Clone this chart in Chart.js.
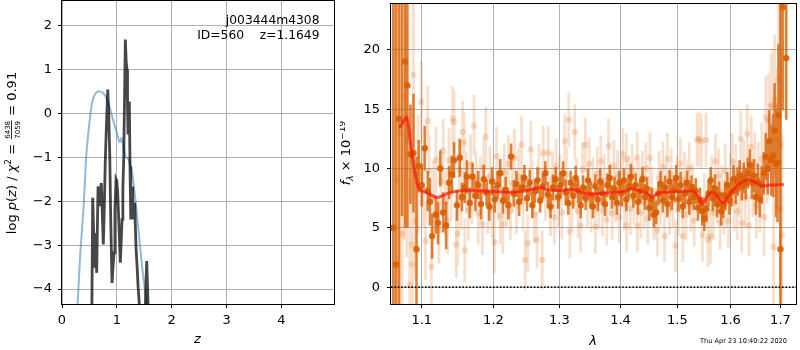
<!DOCTYPE html>
<html><head><meta charset="utf-8">
<script src="https://cdn.jsdelivr.net/npm/chart.js@4.4.1/dist/chart.umd.min.js"></script>
<style>
html,body{margin:0;padding:0;background:#fff;width:800px;height:350px;overflow:hidden;}
#c1{position:absolute;left:0;top:0;}
#c2{position:absolute;left:340px;top:0;}
</style></head><body>
<canvas id="c1" width="340" height="350"></canvas>
<canvas id="c2" width="460" height="350"></canvas>
<script>
// ---------- left panel: log p(z) ----------
const zTicks = [0, 1, 2, 3, 4];
const logpTicks = [-4, -3, -2, -1, 0, 1, 2];
const blueZ = [0.25,0.286,0.334,0.395,0.438,0.487,0.547,0.608,0.669,0.72,0.76,0.82,0.87,0.912,0.96,1.0,1.05,1.07,1.083,1.1,1.113,1.155,1.216,1.277,1.338,1.399,1.46,1.52,1.55,1.6];
const blueLogP = [-5.0,-4.31,-3.17,-2.11,-1.05,-0.36,0.24,0.46,0.51,0.49,0.46,0.32,0.14,-0.06,-0.27,-0.44,-0.65,-0.62,-0.55,-0.62,-0.68,-0.97,-1.05,-1.35,-1.96,-2.72,-3.48,-4.08,-4.35,-5.0];
const blackZ = [0.53,0.545,0.56,0.575,0.59,0.60,0.608,0.62,0.633,0.645,0.657,0.672,0.688,0.70,0.717,0.735,0.754,0.77,0.79,0.812,0.834,0.85,0.87,0.89,0.912,0.93,0.949,0.965,0.985,1.0,1.016,1.04,1.064,1.08,1.095,1.11,1.125,1.14,1.155,1.17,1.186,1.195,1.204,1.216,1.228,1.24,1.254,1.265,1.277,1.29,1.30,1.313,1.326,1.338,1.35,1.37,1.387,1.41,1.45,1.52,1.545,1.57,1.62];
const blackLogP = [-6,-4.35,-1.92,-2.6,-3.48,-3.0,-2.72,-3.2,-3.63,-2.6,-1.66,-1.9,-2.11,-1.8,-1.58,-2.3,-2.98,-2.2,-1.05,-0.2,0.55,0.1,-0.9,-2.5,-3.86,-3.5,-3.17,-2.2,-1.5,-1.55,-1.81,-2.6,-3.4,-2.9,-2.41,-1.7,-1.05,0.3,1.69,1.2,1.0,0.2,-0.44,-0.1,0.28,-1.2,-2.41,-2.0,-1.66,-2.1,-2.41,-2.2,-2.03,-2.6,-3.06,-3.5,-3.93,-4.35,-6,-4.35,-3.36,-4.35,-6];

// ---------- right panel: spectrum ----------
const lamTicks = [1.1, 1.2, 1.3, 1.4, 1.5, 1.6, 1.7];
const fluxTicks = [0, 5, 10, 15, 20];
const darkLam = [1.0625,1.066,1.070,1.074,1.078,1.081,1.085,1.089,1.093,1.096,1.100,1.104,1.108,1.111,1.114,1.119,1.122,1.125,1.129,1.133,1.137,1.141,1.144,1.148,1.152,1.155,1.159,1.162,1.166,1.170,1.174,1.178,1.182,1.186,1.190,1.194,1.198,1.202,1.206,1.210,1.214,1.218,1.222,1.226,1.230,1.234,1.238,1.242,1.246,1.250,1.254,1.258,1.262,1.266,1.270,1.274,1.278,1.282,1.286,1.290,1.294,1.298,1.302,1.306,1.310,1.314,1.318,1.322,1.326,1.330,1.334,1.338,1.342,1.346,1.350,1.354,1.358,1.362,1.366,1.370,1.374,1.378,1.382,1.386,1.390,1.394,1.398,1.402,1.406,1.410,1.414,1.418,1.422,1.426,1.430,1.434,1.438,1.442,1.446,1.450,1.454,1.458,1.462,1.466,1.470,1.474,1.478,1.482,1.486,1.490,1.494,1.498,1.502,1.506,1.510,1.514,1.518,1.522,1.526,1.530,1.534,1.538,1.542,1.546,1.550,1.554,1.558,1.562,1.566,1.570,1.574,1.578,1.582,1.586,1.590,1.594,1.598,1.602,1.606,1.610,1.614,1.618,1.622,1.626,1.630,1.634,1.638,1.642,1.646,1.650,1.654,1.658,1.662,1.666,1.670,1.674,1.677,1.681,1.685,1.688,1.691,1.694,1.696,1.700,1.705,1.712];
const darkFlux = [5.0,1.9,14.2,26.0,19.0,17.0,11.2,11.3,3.2,10.2,8.6,11.7,8.1,7.2,4.3,6.1,5.4,10.0,6.3,5.2,8.8,9.5,10.7,6.9,10.9,7.6,8.4,9.3,7.1,9.3,7.7,8.6,7.0,9.1,8.0,6.8,8.9,7.4,8.6,9.6,7.3,8.2,6.9,11.0,7.9,8.7,7.2,8.4,9.2,7.5,8.8,6.9,8.1,9.0,7.3,8.5,9.6,7.8,6.8,8.4,9.1,7.6,8.6,9.6,8.0,7.1,8.8,7.7,9.2,8.1,6.9,8.4,7.5,9.0,7.8,6.8,8.5,7.4,8.9,7.9,7.0,8.6,9.2,7.6,8.3,7.1,8.8,7.9,9.0,7.4,8.5,9.3,7.7,8.6,7.2,8.1,9.1,7.6,8.3,6.7,7.4,6.1,6.3,7.9,8.7,7.3,8.4,7.0,8.9,7.6,8.2,9.2,7.4,8.6,6.8,7.9,8.8,7.2,8.4,7.6,8.1,6.7,7.3,6.4,5.8,6.6,7.9,9.0,7.5,8.3,7.0,7.8,6.4,6.9,7.7,8.6,7.3,8.0,9.1,8.2,8.9,9.4,8.5,9.2,8.7,9.6,10.3,8.8,9.4,7.6,8.9,7.4,8.6,9.6,11.0,10.0,12.3,10.7,11.1,13.2,10.4,10.5,14.5,3.2,23.6,19.3];
const darkErr = [30,30,22,20,14,12,4.2,5.0,7.8,2.2,1.8,1.9,1.7,2.0,1.9,1.6,1.8,1.5,1.7,2.0,1.4,1.6,1.5,1.3,1.6,1.2,1.3,1.4,1.3,1.2,1.3,1.2,1.3,1.2,1.1,1.2,1.2,1.1,1.2,1.2,1.1,1.1,1.2,1.1,1.1,1.1,1.2,1.1,1.1,1.1,1.1,1.1,1.0,1.1,1.0,1.1,1.0,1.1,1.0,1.1,1.0,1.0,1.1,1.0,1.1,1.0,1.0,1.1,1.0,1.0,1.1,1.0,1.0,1.0,1.1,1.0,1.0,1.0,1.1,1.0,1.0,1.0,1.1,1.0,1.0,1.0,1.0,1.1,1.0,1.0,1.0,1.1,1.0,1.0,1.1,1.0,1.0,1.1,1.0,1.1,1.0,1.1,1.0,1.0,1.1,1.0,1.0,1.1,1.0,1.1,1.0,1.1,1.0,1.1,1.0,1.1,1.0,1.1,1.0,1.1,1.1,1.1,1.1,1.2,1.1,1.1,1.1,1.1,1.1,1.2,1.1,1.1,1.2,1.1,1.2,1.1,1.2,1.2,1.2,1.2,1.2,1.3,1.2,1.3,1.3,1.3,1.3,1.4,1.4,1.5,1.5,1.5,1.6,1.8,2.0,2.2,2.6,3.0,3.5,4.0,4.5,5.0,6.0,25,8.7,5.2];
const lightLam = [1.068,1.072,1.074,1.077,1.080,1.084,1.087,1.0875,1.089,1.0916,1.095,1.0995,1.102,1.105,1.108,1.110,1.113,1.116,1.119,1.123,1.126,1.129,1.132,1.135,1.137,1.140,1.142,1.144,1.147,1.149,1.151,1.154,1.156,1.158,1.159,1.161,1.164,1.167,1.169,1.172,1.175,1.178,1.181,1.184,1.186,1.189,1.192,1.195,1.198,1.2015,1.2046,1.207,1.210,1.2135,1.216,1.219,1.222,1.225,1.228,1.231,1.234,1.237,1.2416,1.244,1.247,1.251,1.2557,1.258,1.261,1.265,1.268,1.2732,1.2748,1.278,1.2825,1.286,1.289,1.292,1.295,1.298,1.301,1.304,1.3085,1.311,1.3148,1.3165,1.320,1.3245,1.327,1.330,1.334,1.337,1.3417,1.345,1.348,1.351,1.354,1.358,1.361,1.364,1.367,1.370,1.373,1.377,1.380,1.383,1.386,1.389,1.392,1.395,1.398,1.401,1.404,1.407,1.410,1.4105,1.414,1.417,1.420,1.423,1.4286,1.429,1.432,1.435,1.438,1.441,1.444,1.447,1.451,1.454,1.4578,1.4608,1.464,1.467,1.470,1.474,1.477,1.480,1.482,1.486,1.489,1.492,1.4966,1.499,1.502,1.5055,1.509,1.510,1.513,1.516,1.519,1.522,1.525,1.528,1.531,1.5365,1.540,1.5445,1.5465,1.550,1.553,1.557,1.5615,1.564,1.567,1.571,1.574,1.577,1.580,1.583,1.587,1.590,1.593,1.596,1.600,1.6035,1.607,1.610,1.613,1.617,1.620,1.622,1.626,1.629,1.633,1.636,1.641,1.644,1.648,1.651,1.655,1.658,1.662,1.6665,1.670,1.673,1.676,1.681,1.684,1.686,1.688,1.692,1.696,1.700,1.7005,1.703];
const lightFlux = [9.0,13.0,4.5,16.0,12.5,0.2,3.6,1.9,17.9,5.6,9.5,15.6,8.3,3.9,14.0,9.8,1.7,7.6,10.7,4.8,8.9,11.5,7.2,5.6,10.7,8.3,14.2,13.9,3.6,4.5,9.9,7.4,13.1,12.2,3.1,8.8,6.5,10.3,7.8,13.6,9.0,6.2,8.5,5.3,10.1,12.7,7.0,9.4,6.6,3.8,11.0,8.1,6.0,5.3,9.7,7.5,10.4,6.4,8.8,10.9,6.9,9.3,12.0,7.2,2.3,3.7,11.6,8.3,6.1,4.0,9.8,2.3,11.3,7.9,11.3,6.6,9.1,5.9,10.2,7.4,8.9,6.3,12.3,9.5,14.1,4.7,7.0,13.1,8.6,6.4,5.2,9.9,12.0,7.3,10.4,6.8,8.7,5.1,9.6,7.1,10.6,6.5,9.0,5.7,11.9,8.3,6.2,10.2,7.7,9.4,5.9,8.6,11.2,7.0,10.8,5.2,8.9,6.6,9.9,7.5,10.9,5.15,8.4,6.3,9.3,7.1,10.0,5.8,10.9,8.0,6.2,6.2,4.8,9.2,7.4,10.1,4.3,8.2,10.8,6.6,9.5,7.2,3.5,8.7,6.5,10.4,7.8,4.3,9.1,6.1,8.6,10.0,6.9,8.2,5.6,12.4,12.5,12.3,4.4,7.3,12.4,4.0,4.3,8.8,6.3,10.6,7.7,9.4,5.4,8.0,6.7,9.8,7.3,5.6,8.9,10.6,7.1,9.6,6.4,8.3,12.5,5.4,9.9,7.5,12.9,5.2,11.8,8.6,10.4,6.9,9.3,7.6,10.8,5.9,14.3,10.9,14.0,15.3,15.3,3.4,15.8,12.4,17.5,6.6,12.0,4.4];
const lightErr = [18,15,14,12,10,9,8,8,6,5,5,3.5,3.2,3.3,3.0,3.0,3.2,3.0,2.8,2.8,2.8,2.7,2.8,2.8,2.7,2.7,2.7,2.7,2.8,2.7,2.6,2.6,2.6,2.6,2.7,2.6,2.6,2.6,2.5,2.6,2.5,2.6,2.5,2.6,2.5,2.5,2.5,2.5,2.5,2.6,2.5,2.5,2.4,2.5,2.4,2.4,2.4,2.4,2.4,2.4,2.4,2.4,2.4,2.4,2.5,2.4,2.4,2.3,2.4,2.4,2.3,2.5,2.3,2.3,2.3,2.3,2.3,2.3,2.3,2.3,2.3,2.3,2.3,2.3,2.3,2.3,2.3,2.3,2.3,2.3,2.3,2.3,2.3,2.3,2.2,2.2,2.2,2.3,2.2,2.2,2.2,2.2,2.2,2.2,2.3,2.2,2.2,2.2,2.2,2.2,2.2,2.2,2.2,2.2,2.2,2.2,2.2,2.2,2.2,2.2,2.2,2.2,2.2,2.2,2.2,2.2,2.2,2.2,2.2,2.2,2.2,2.2,2.2,2.3,2.2,2.2,2.2,2.3,2.2,2.2,2.2,2.2,2.2,2.3,2.2,2.2,2.2,2.2,2.3,2.2,2.2,2.2,2.2,2.2,2.2,2.3,2.3,2.3,2.3,2.3,2.3,2.3,2.3,2.3,2.3,2.3,2.3,2.3,2.3,2.3,2.3,2.3,2.3,2.3,2.4,2.4,2.4,2.4,2.4,2.4,2.4,2.5,2.5,2.5,2.5,2.6,2.6,2.7,2.7,2.8,2.9,3.0,3.1,3.3,3.5,3.8,4.0,4.3,4.8,5.2,5.5,6.0,6.5,7.0,8.0,8.5,9.0];
const modelLam = [1.0707,1.075,1.080,1.0845,1.0898,1.0955,1.100,1.105,1.112,1.120,1.128,1.135,1.145,1.160,1.18,1.20,1.22,1.24,1.255,1.265,1.272,1.28,1.30,1.32,1.335,1.35,1.37,1.39,1.41,1.42,1.43,1.445,1.455,1.465,1.48,1.50,1.52,1.53,1.54,1.546,1.552,1.56,1.568,1.575,1.586,1.595,1.605,1.62,1.637,1.65,1.662,1.68,1.707];
const modelFlux = [13.4,13.9,14.3,12.5,10.0,8.4,8.1,8.0,7.8,7.55,7.7,7.9,8.05,8.15,8.1,8.05,8.0,8.05,8.2,8.35,8.4,8.2,8.15,8.25,8.0,7.85,7.9,8.0,8.1,8.3,8.15,7.95,7.6,7.9,8.0,8.05,8.1,8.05,7.5,6.97,7.4,7.9,7.95,7.6,7.1,7.6,8.2,8.8,9.05,8.8,8.55,8.6,8.64];
const zeroLam = [1.0597, 1.7324];
const zeroFlux = [0, 0];

const FONT = 'DejaVu Sans';
const pts = (xs, ys) => xs.map((x, i) => ({x: x, y: ys[i]}));
function errSegs(xs, ys, es) {
  const out = [];
  for (let i = 0; i < xs.length; i++) {
    out.push({x: xs[i], y: ys[i] - es[i]}, {x: xs[i], y: ys[i] + es[i]}, {x: xs[i], y: null});
  }
  return out;
}
const minus = v => (v < 0 ? '\u2212' + Math.abs(v) : String(v));
const noPad = s => { s.paddingTop = 0; s.paddingBottom = 0; s.paddingLeft = 0; s.paddingRight = 0; };

const framePlugin = {
  id: 'frame',
  afterDraw(chart) {
    const a = chart.chartArea, c = chart.ctx;
    c.save();
    c.strokeStyle = '#000'; c.lineWidth = 1;
    const l = Math.round(a.left) - 0.5, t = Math.round(a.top) - 0.5;
    const r = Math.round(a.right) + 0.5, b = Math.round(a.bottom) + 0.5;
    c.strokeRect(l, t, r - l, b - t);
    c.restore();
  }
};

function gridOpts() {
  return {color: '#b0b0b0', lineWidth: 1, tickLength: 4, tickColor: '#000', drawTicks: true};
}

// ---------- left chart ----------
const leftText = {
  id: 'leftText',
  afterDraw(chart) {
    const c = chart.ctx;
    c.save();
    c.fillStyle = '#000';
    c.font = '12.3px "' + FONT + '"';
    c.textAlign = 'right'; c.textBaseline = 'alphabetic';
    c.fillText('j003444m4308', 319.5, 24);
    c.fillText('ID=560    z=1.1649', 319.5, 39);
    c.textAlign = 'center';
    c.font = 'italic 13px "' + FONT + '"';
    c.fillText('z', 197.5, 343);
    c.translate(15.5, 153);
    c.rotate(-Math.PI / 2);
    const big = '13px "' + FONT + '"', bigI = 'italic 13px "' + FONT + '"';
    const sup = '9px "' + FONT + '"', frac = '7px "' + FONT + '"';
    const parts = [
      [big, 'log ', 0], [bigI, 'p', 0], [big, '(', 0], [bigI, 'z', 0], [big, ') / ', 0],
      [bigI, '\u03c7', 0], [sup, '2', -5], [big, ' = ', 0], ['FRAC', '', 0], [big, ' = 0.91', 0]
    ];
    c.font = frac;
    const fw = Math.max(c.measureText('6438').width, c.measureText('7059').width) + 2;
    let total = 0;
    for (const p of parts) {
      if (p[0] === 'FRAC') { total += fw; continue; }
      c.font = p[0]; total += c.measureText(p[1]).width;
    }
    let x = -total / 2;
    c.textAlign = 'left';
    for (const p of parts) {
      if (p[0] === 'FRAC') {
        c.font = frac; c.textAlign = 'center';
        c.fillText('6438', x + fw / 2, -5.5);
        c.fillText('7059', x + fw / 2, 4);
        c.fillRect(x + 0.5, -4.3, fw - 1, 0.8);
        c.textAlign = 'left';
        x += fw; continue;
      }
      c.font = p[0];
      c.fillText(p[1], x, p[2]);
      x += c.measureText(p[1]).width;
    }
    c.restore();
  }
};

new Chart(document.getElementById('c1'), {
  type: 'scatter',
  data: {
    datasets: [
      {data: pts(blackZ, blackLogP), showLine: true, borderColor: 'rgba(0,0,0,0.72)', borderWidth: 2.8, pointRadius: 0, tension: 0, clip: 0, order: 1},
      {data: pts(blueZ, blueLogP), showLine: true, borderColor: 'rgba(31,119,180,0.5)', borderWidth: 2, pointRadius: 0, tension: 0.2, clip: 0, order: 2}
    ]
  },
  options: {
    responsive: false, animation: false, events: [],
    layout: {padding: {left: 0, top: 1, right: 6, bottom: 0}},
    plugins: {legend: {display: false}, tooltip: {enabled: false}},
    scales: {
      x: {
        type: 'linear', min: 0, max: 4.96,
        afterBuildTicks: s => { s.ticks = zTicks.map(v => ({value: v})); },
        afterFit: s => { s.height = 46; noPad(s); },
        grid: gridOpts(), border: {display: false},
        ticks: {color: '#000', font: {family: FONT, size: 13}, padding: 5, maxRotation: 0, callback: v => minus(v)}
      },
      y: {
        type: 'linear', min: -4.34, max: 2.57,
        afterBuildTicks: s => { s.ticks = logpTicks.map(v => ({value: v})); },
        afterFit: s => { s.width = 62; noPad(s); },
        grid: gridOpts(), border: {display: false},
        ticks: {color: '#000', font: {family: FONT, size: 13}, padding: 6, callback: v => minus(v)}
      }
    }
  },
  plugins: [framePlugin, leftText]
});

// ---------- right chart ----------
const rightText = {
  id: 'rightText',
  afterDraw(chart) {
    const c = chart.ctx;
    c.save();
    c.fillStyle = '#000';
    c.textAlign = 'center'; c.textBaseline = 'alphabetic';
    c.font = 'italic 13px "' + FONT + '"';
    c.fillText('\u03bb', 253, 345);
    c.font = '6.6px "' + FONT + '"';
    c.textAlign = 'right';
    c.fillText('Thu Apr 23 10:40:22 2020', 447, 342.5);
    c.translate(10, 153);
    c.rotate(-Math.PI / 2);
    const big = '13px "' + FONT + '"', bigI = 'italic 13px "' + FONT + '"';
    const sm = '9px "' + FONT + '"', smI = 'italic 9px "' + FONT + '"';
    const parts = [[bigI, 'f', 0], [smI, '\u03bb', 3], [big, ' \u00d7 10', 0], [sm, '\u221219', -5.5]];
    let total = 0;
    for (const p of parts) { c.font = p[0]; total += c.measureText(p[1]).width; }
    let x = -total / 2;
    c.textAlign = 'left';
    for (const p of parts) { c.font = p[0]; c.fillText(p[1], x, p[2]); x += c.measureText(p[1]).width; }
    c.restore();
  }
};

const ORANGE = '217,95,2';
new Chart(document.getElementById('c2'), {
  type: 'scatter',
  data: {
    datasets: [
      {data: pts(modelLam, modelFlux), showLine: true, borderColor: 'rgba(255,20,10,0.7)', borderWidth: 3, pointRadius: 0, tension: 0.3, clip: 0, order: 1},
      {data: pts(zeroLam, zeroFlux), showLine: true, borderColor: '#111', borderWidth: 1.6, borderDash: [1.6, 1.8], pointRadius: 0, clip: 0, order: 2},
      {data: pts(darkLam, darkFlux), showLine: false, pointRadius: 3.2, pointBorderWidth: 0, pointBackgroundColor: 'rgba(' + ORANGE + ',0.92)', clip: 0, order: 3},
      {data: errSegs(darkLam, darkFlux, darkErr), showLine: true, spanGaps: false, borderColor: 'rgba(' + ORANGE + ',0.78)', borderWidth: 2.6, borderCapStyle: 'butt', pointRadius: 0, clip: 0, order: 4},
      {data: pts(lightLam, lightFlux), showLine: false, pointRadius: 3.2, pointBorderWidth: 0, pointBackgroundColor: 'rgba(' + ORANGE + ',0.2)', clip: 0, order: 5},
      {data: errSegs(lightLam, lightFlux, lightErr), showLine: true, spanGaps: false, borderColor: 'rgba(' + ORANGE + ',0.2)', borderWidth: 2.8, borderCapStyle: 'butt', pointRadius: 0, clip: 0, order: 6}
    ]
  },
  options: {
    responsive: false, animation: false, events: [],
    layout: {padding: {left: 0, top: 1, right: 1, bottom: 0}},
    plugins: {legend: {display: false}, tooltip: {enabled: false}},
    scales: {
      x: {
        type: 'logarithmic', min: 1.0597, max: 1.7324,
        afterBuildTicks: s => { s.ticks = lamTicks.map(v => ({value: v})); },
        afterFit: s => { s.height = 46; noPad(s); },
        grid: gridOpts(), border: {display: false},
        ticks: {color: '#000', font: {family: FONT, size: 13}, padding: 5, maxRotation: 0, autoSkip: false, callback: v => Number(v).toFixed(1)}
      },
      y: {
        type: 'linear', min: -1.42, max: 23.86,
        afterBuildTicks: s => { s.ticks = fluxTicks.map(v => ({value: v})); },
        afterFit: s => { s.width = 51; noPad(s); },
        grid: gridOpts(), border: {display: false},
        ticks: {color: '#000', font: {family: FONT, size: 13}, padding: 7, callback: v => String(v)}
      }
    }
  },
  plugins: [framePlugin, rightText]
});
</script>
</body></html>
